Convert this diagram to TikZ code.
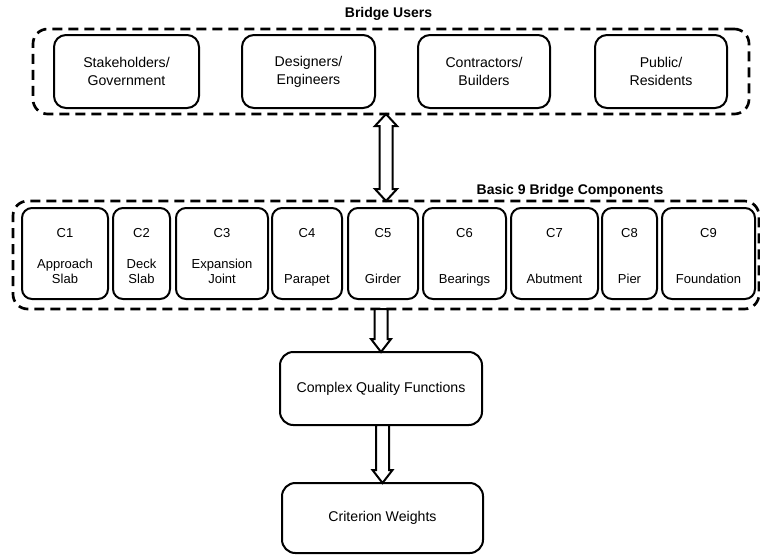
\documentclass[tikz,border=0pt]{standalone}
\usepackage{fontspec}
\setmainfont{Liberation Sans}
\usetikzlibrary{calc}

% hollow block arrow pointing down from #1 to #2
\newcommand{\hollowdown}[2]{%
  \draw[blockarrow] let \p1=(#1), \p2=(#2) in
    (\x2-4.875pt,\y1) -- (\x2-4.875pt,\y2+9.75pt) -- (\x2-7.5pt,\y2+9.75pt) -- (\x2,\y2)
    -- (\x2+7.5pt,\y2+9.75pt) -- (\x2+4.875pt,\y2+9.75pt) -- (\x2+4.875pt,\y1) -- cycle;}

% hollow block arrow with heads at both ends, from #1 (top) to #2 (bottom)
\newcommand{\hollowboth}[2]{%
  \draw[blockarrow] let \p1=(#1), \p2=(#2) in
    (\x2,\y1) -- (\x2+8.25pt,\y1-9pt) -- (\x2+4.875pt,\y1-9pt) -- (\x2+4.875pt,\y2+9pt)
    -- (\x2+8.25pt,\y2+9pt) -- (\x2,\y2) -- (\x2-8.25pt,\y2+9pt) -- (\x2-4.875pt,\y2+9pt)
    -- (\x2-4.875pt,\y1-9pt) -- (\x2-8.25pt,\y1-9pt) -- cycle;}

\begin{document}
\begin{tikzpicture}[x=0.75pt,y=-0.75pt,
  every node/.style={inner sep=0pt, outer sep=0pt},
  grp/.style={draw, line width=2pt, dash pattern=on 7.5pt off 4.5pt, rounded corners=11pt},
  userbox/.style={draw, line width=1.5pt, rounded corners=9pt, minimum height=54.75pt,
    align=center, font=\fontsize{10.6}{13.3}\selectfont},
  compbox/.style={draw, line width=1.5pt, rounded corners=7.5pt, minimum height=68.25pt},
  ctag/.style={anchor=base, font=\fontsize{9.75}{11.25}\selectfont},
  cname/.style={anchor=base, align=center, font=\fontsize{9.75}{11.25}\selectfont},
  stepbox/.style={draw, line width=1.5pt, rounded corners=10pt, minimum width=151.5pt,
    minimum height=54.75pt, font=\fontsize{10.6}{12}\selectfont},
  gtitle/.style={font=\bfseries\fontsize{10.5}{12}\selectfont},
  blockarrow/.style={draw, line width=1.5pt, fill=white, line join=miter}
]
\useasboundingbox (0,0) rectangle (760,554);

% ---- bridge users ----
\node[gtitle] (usertitle) at (388.5,14) {Bridge Users};
\node[grp, minimum width=537pt, minimum height=63.75pt] (ug) at (391,71.5) {};
\node[userbox, minimum width=108.75pt] (u1) at (126.5,71.5) {Stakeholders/\\Government};
\node[userbox, minimum width=99.75pt] (u2) at (308.5,71.5) {Designers/\\Engineers};
\node[userbox, minimum width=99pt] (u3) at (484,71.5) {Contractors/\\Builders};
\node[userbox, minimum width=99pt] (u4) at (661,71.5) {Public/\\Residents};

% ---- bridge components ----
\node[gtitle] (comptitle) at (570,191) {Basic 9 Bridge Components};
\node[grp, minimum width=559.5pt, minimum height=81pt] (cg) at (386,255) {};

\node[compbox, minimum width=64.5pt]  (c1) at (65,253.5) {};
\node[compbox, minimum width=42.75pt] (c2) at (141.5,253.5) {};
\node[compbox, minimum width=69pt]    (c3) at (222,253.5) {};
\node[compbox, minimum width=52.5pt]  (c4) at (307,253.5) {};
\node[compbox, minimum width=52.5pt]  (c5) at (383,253.5) {};
\node[compbox, minimum width=62.25pt] (c6) at (464.5,253.5) {};
\node[compbox, minimum width=65.25pt] (c7) at (554.5,253.5) {};
\node[compbox, minimum width=41.25pt] (c8) at (629.5,253.5) {};
\node[compbox, minimum width=69.75pt] (c9) at (708.5,253.5) {};

\node[ctag] (t1) at ($(c1.north)+(0,29)$) {C1};
\node[ctag] (t2) at ($(c2.north)+(0,29)$) {C2};
\node[ctag] (t3) at ($(c3.north)+(0,29)$) {C3};
\node[ctag] (t4) at ($(c4.north)+(0,29)$) {C4};
\node[ctag] (t5) at ($(c5.north)+(0,29)$) {C5};
\node[ctag] (t6) at ($(c6.north)+(0,29)$) {C6};
\node[ctag] (t7) at ($(c7.north)+(0,29)$) {C7};
\node[ctag] (t8) at ($(c8.north)+(0,29)$) {C8};
\node[ctag] (t9) at ($(c9.north)+(0,29)$) {C9};

% names sit on the last line's baseline
\node[cname] (n1) at ($(c1.south)+(0,-16)$) {Approach\\Slab};
\node[cname] (n2) at ($(c2.south)+(0,-16)$) {Deck\\Slab};
\node[cname] (n3) at ($(c3.south)+(0,-16)$) {Expansion\\Joint};
\node[cname] (n4) at ($(c4.south)+(0,-16)$) {Parapet};
\node[cname] (n5) at ($(c5.south)+(0,-16)$) {Girder};
\node[cname] (n6) at ($(c6.south)+(0,-16)$) {Bearings};
\node[cname] (n7) at ($(c7.south)+(0,-16)$) {Abutment};
\node[cname] (n8) at ($(c8.south)+(0,-16)$) {Pier};
\node[cname] (n9) at ($(c9.south)+(0,-16)$) {Foundation};

% ---- results ----
\node[stepbox] (cqf) at (381,388.5) {Complex Quality Functions};
\node[stepbox, minimum width=150.75pt, minimum height=52.5pt] (cw) at (382.5,518) {Criterion Weights};

% ---- connectors ----
\hollowboth{ug.south -| cg.north}{cg.north}
\hollowdown{cg.south -| cqf.north}{cqf.north}
\hollowdown{cqf.south}{cw.north}
\end{tikzpicture}
\end{document}
